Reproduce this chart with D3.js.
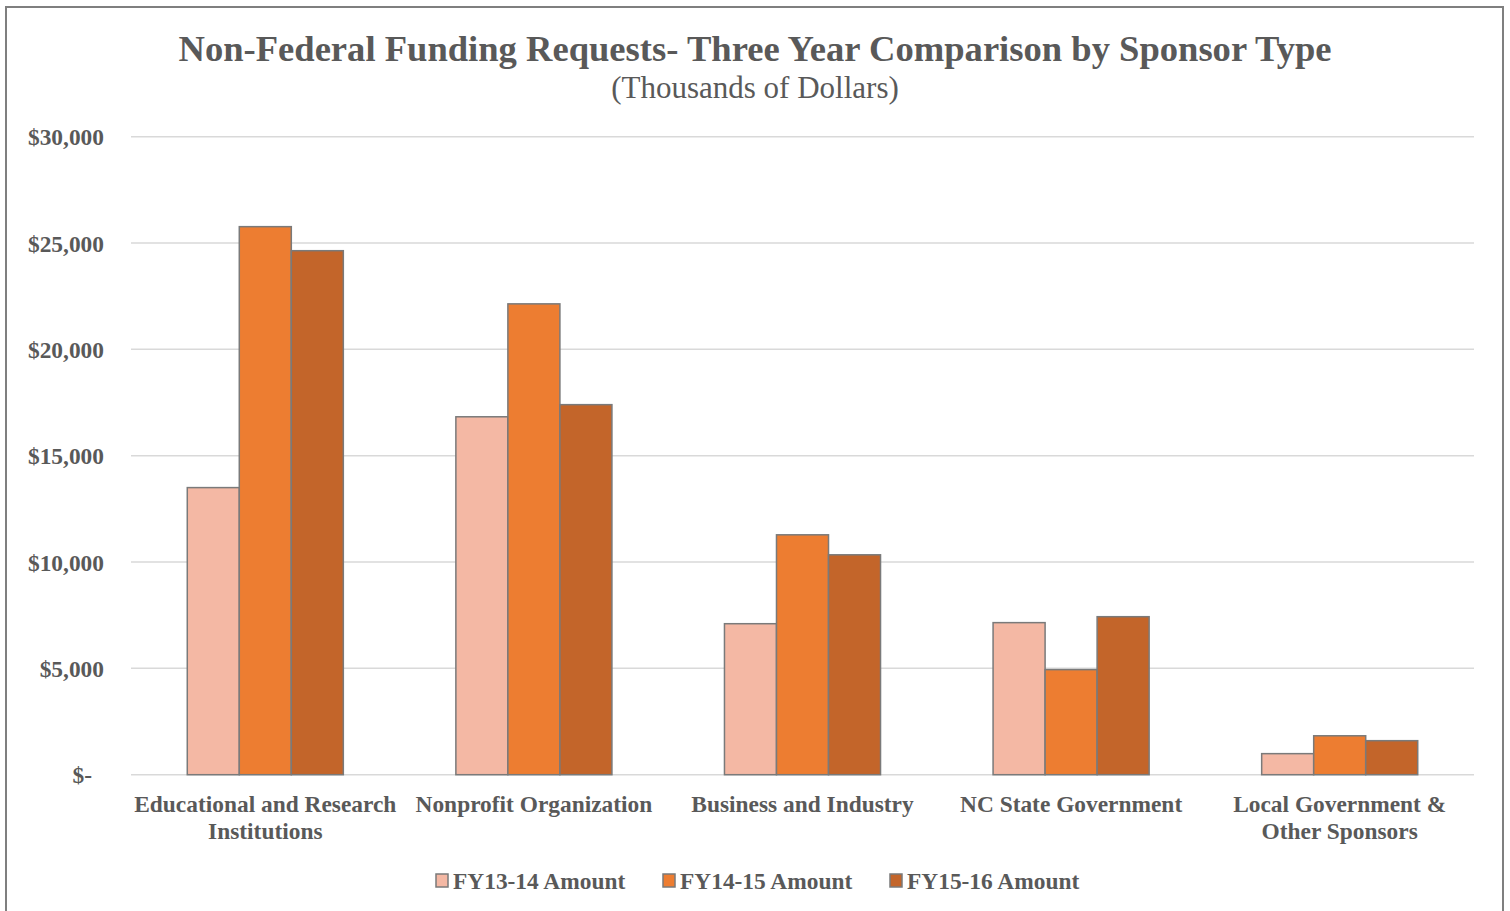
<!DOCTYPE html>
<html><head><meta charset="utf-8">
<script src="https://cdn.jsdelivr.net/npm/d3@7"></script>
<style>body{margin:0;background:#fff;} svg{display:block;} text{font-family:"Liberation Serif","Times New Roman",serif;}</style>
</head><body><svg id="c" width="1510" height="911"></svg>
<script>
const categories = [["Educational and Research","Institutions"],["Nonprofit Organization"],["Business and Industry"],["NC State Government"],["Local Government &","Other Sponsors"]];
const seriesNames = ["FY13-14 Amount","FY14-15 Amount","FY15-16 Amount"];
const fy1314 = [13500, 16830, 7100, 7150, 990];
const fy1415 = [25770, 22140, 11280, 4940, 1830];
const fy1516 = [24640, 17400, 10340, 7430, 1600];
const yTicks = [0,5000,10000,15000,20000,25000,30000];
const colors = ["#F4B8A4","#ED7D31","#C3652A"];
const series = [fy1314, fy1415, fy1516];

const svg = d3.select("#c");
const W=1510,H=911;
const m={left:131,right:1474,top:136.7,bottom:774.7};
const txt="#595959";

svg.append("rect").attr("x",6).attr("y",7).attr("width",1497).attr("height",920)
  .attr("fill","#fff").attr("stroke","#7f7f7f").attr("stroke-width",2);

const x = d3.scaleBand().domain(d3.range(categories.length)).range([m.left,m.right]).paddingInner(0.419).paddingOuter(0.2095);
const xs = d3.scaleBand().domain(d3.range(series.length)).range([0,x.bandwidth()]);
const y = d3.scaleLinear().domain([0,30000]).range([m.bottom,m.top]);

// gridlines
svg.append("g").selectAll("line").data(yTicks).join("line")
  .attr("x1",m.left).attr("x2",m.right).attr("y1",d=>y(d)).attr("y2",d=>y(d))
  .attr("stroke","#d9d9d9").attr("stroke-width",1.5);

// y axis labels
const yAxis = d3.axisLeft(y).tickValues(yTicks).tickSize(0).tickPadding(0)
  .tickFormat(d=> d===0 ? "$-" : "$"+d3.format(",")(d));
const ga = svg.append("g").attr("transform",`translate(104,0)`).call(yAxis);
ga.select(".domain").remove();
ga.selectAll("text").attr("fill",txt).attr("font-size","23.4px").attr("font-weight","bold")
  .attr("font-family","Liberation Serif, Times New Roman, serif")
  .attr("dx",d=>d===0?-12:0).attr("dy","0.34em");

// bars
series.forEach((s,si)=>{
  svg.append("g").selectAll("rect").data(s).join("rect")
    .attr("x",(d,i)=>x(i)+xs(si)).attr("width",xs.bandwidth())
    .attr("y",d=>y(d)).attr("height",d=>y(0)-y(d))
    .attr("fill",colors[si]).attr("stroke","#7a7a7a").attr("stroke-width",1.5);
});

// x labels
const xl = svg.append("g");
categories.forEach((lines,i)=>{
  const t = xl.append("text").attr("x",x(i)+x.bandwidth()/2).attr("y",812)
    .attr("text-anchor","middle").attr("fill",txt).attr("font-size","23.4px").attr("font-weight","bold");
  lines.forEach((l,j)=>t.append("tspan").attr("x",x(i)+x.bandwidth()/2).attr("dy",j===0?0:27).text(l));
});

// title
svg.append("text").attr("x",755).attr("y",61).attr("text-anchor","middle").attr("fill",txt)
  .attr("font-size","36.6px").attr("font-weight","bold").text("Non-Federal Funding Requests- Three Year Comparison by Sponsor Type");
svg.append("text").attr("x",755).attr("y",98).attr("text-anchor","middle").attr("fill",txt)
  .attr("font-size","31px").text("(Thousands of Dollars)");

// legend
const lg = svg.append("g");
const lx=[436,663,890];
seriesNames.forEach((n,i)=>{
  lg.append("rect").attr("x",lx[i]).attr("y",874).attr("width",12).attr("height",13)
    .attr("fill",colors[i]).attr("stroke","#7a7a7a").attr("stroke-width",1.5);
  lg.append("text").attr("x",lx[i]+17).attr("y",889).attr("fill",txt).attr("font-size","23.4px")
    .attr("font-weight","bold").text(n);
});
</script></body></html>
